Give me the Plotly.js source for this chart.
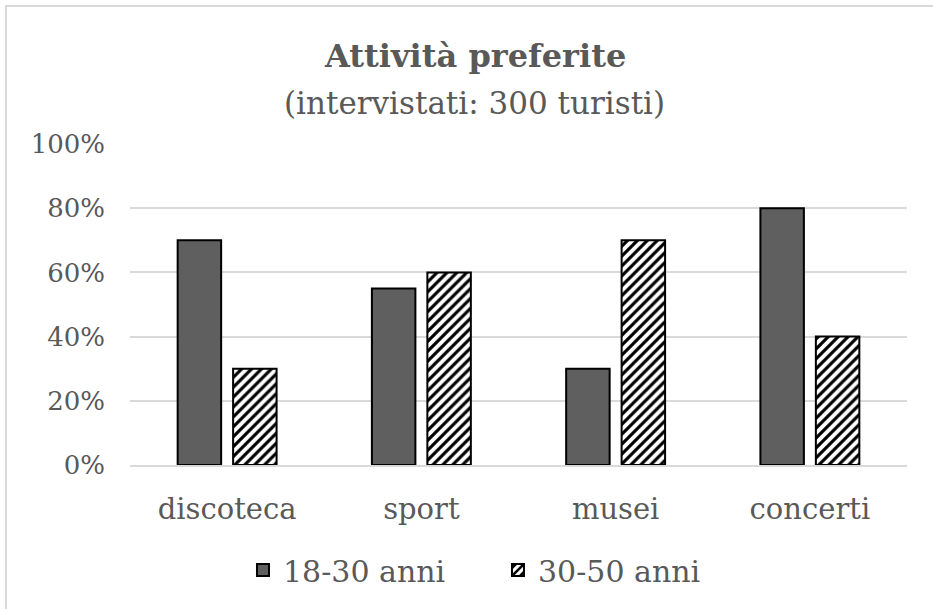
<!DOCTYPE html>
<html>
<head>
<meta charset="utf-8">
<script src="https://cdn.plot.ly/plotly-3.0.1.min.js"></script>
<style>
  html, body { margin: 0; padding: 0; background: #fff; overflow: hidden; }
  #chart { width: 933px; height: 609px; position: absolute; left: 0; top: 0; }
  #frame { position: absolute; left: 5px; top: 5px; width: 960px; height: 640px;
           border: 2px solid #d9d9d9; pointer-events: none; box-sizing: border-box; }
</style>
</head>
<body>
<div id="chart"></div>
<div id="frame"></div>
<script>
const categories = ["discoteca", "sport", "musei", "concerti"];
const seriesNames = ["18-30 anni", "30-50 anni"];
const young = [0.70, 0.55, 0.30, 0.80];
const adult = [0.30, 0.60, 0.70, 0.40];
const yTicks = [0, 0.2, 0.4, 0.6, 0.8, 1.0];
const yTickLabels = ["0%", "20%", "40%", "60%", "80%", "100%"];
const titleText = "Attività preferite";
const subtitleText = "(intervistati: 300 turisti)";

const FONT = "DejaVu Serif, serif";
const TXT = "#595959";

const traces = [
  {
    type: "bar", name: seriesNames[0], x: categories, y: young,
    marker: { color: "#5f5f5f", line: { color: "#000", width: 2 } },
    hoverinfo: "none"
  },
  {
    type: "bar", name: seriesNames[1], x: categories, y: adult,
    marker: {
      color: "#ffffff",
      line: { color: "#000", width: 2 },
      pattern: { shape: "/", fgcolor: "#000", bgcolor: "#fff", size: 7, solidity: 0.45 }
    },
    hoverinfo: "none"
  }
];

const layout = {
  width: 933, height: 609,
  margin: { l: 130, r: 26, t: 143.5, b: 144 },
  paper_bgcolor: "#fff", plot_bgcolor: "#fff",
  font: { family: FONT, color: TXT, size: 28 },
  annotations: [
    {
      text: "<b>" + titleText + "</b>", showarrow: false,
      xref: "paper", yref: "paper", x: 0.444, y: 1.2753,
      xanchor: "center", yanchor: "middle",
      font: { family: FONT, size: 32, color: TXT }
    },
    {
      text: subtitleText, showarrow: false,
      xref: "paper", yref: "paper", x: 0.444, y: 1.129,
      xanchor: "center", yanchor: "middle",
      font: { family: FONT, size: 31, color: TXT }
    }
  ],
  barmode: "group",
  bargap: 0.429,
  bargroupgap: 0.216,
  xaxis: {
    type: "category",
    tickfont: { family: FONT, size: 29, color: TXT },
    ticks: "", showline: true, linecolor: "#d9d9d9", linewidth: 2,
    showgrid: false, ticklabelstandoff: 17
  },
  yaxis: {
    range: [0, 1], tickvals: yTicks, ticktext: yTickLabels,
    tickfont: { family: FONT, size: 26, color: TXT },
    showgrid: true, gridcolor: "#d9d9d9", gridwidth: 2,
    zeroline: false, showline: false, ticks: "", ticklabelstandoff: 24
  },
  legend: {
    orientation: "h", x: 0.4736, xanchor: "center", y: -0.327, yanchor: "middle",
    font: { family: FONT, size: 30, color: TXT },
    itemwidth: 30, traceorder: "normal",
    entrywidth: 210, entrywidthmode: "pixels"
  },
  showlegend: true
};

Plotly.newPlot("chart", traces, layout, { staticPlot: true, displayModeBar: false });
</script>
</body>
</html>
